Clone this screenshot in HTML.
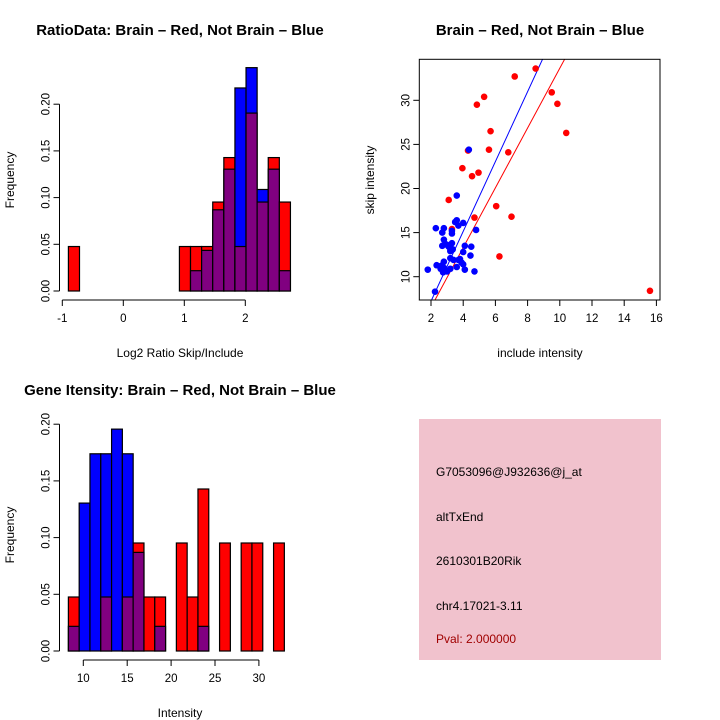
<!DOCTYPE html>
<html><head><meta charset="utf-8">
<style>
html,body{margin:0;padding:0;background:#fff;}
svg{display:block;font-family:"Liberation Sans",sans-serif;}
</style></head>
<body>
<svg id="c" width="720" height="720" viewBox="0 0 720 720">
<rect x="0" y="0" width="720" height="720" fill="#fff"/>
<text x="180" y="35" text-anchor="middle" font-size="15" font-weight="bold">RatioData: Brain – Red, Not Brain – Blue</text>
<text x="540" y="35" text-anchor="middle" font-size="15" font-weight="bold">Brain – Red, Not Brain – Blue</text>
<text x="180" y="395" text-anchor="middle" font-size="15" font-weight="bold">Gene Itensity: Brain – Red, Not Brain – Blue</text>
<text x="180" y="357" text-anchor="middle" font-size="12">Log2 Ratio Skip/Include</text>
<text x="14" y="180" text-anchor="middle" font-size="12" transform="rotate(-90 14 180)">Frequency</text>
<text x="540" y="357" text-anchor="middle" font-size="12">include intensity</text>
<text x="374" y="180" text-anchor="middle" font-size="12" transform="rotate(-90 374 180)">skip intensity</text>
<text x="180" y="717" text-anchor="middle" font-size="12">Intensity</text>
<text x="14" y="535" text-anchor="middle" font-size="12" transform="rotate(-90 14 535)">Frequency</text>
<g>
<rect x="419" y="419" width="242" height="241" fill="#f1c2cd"/>
<text x="436" y="476" font-size="12">G7053096@J932636@j_at</text>
<text x="436" y="521" font-size="12">altTxEnd</text>
<text x="436" y="565" font-size="12">2610301B20Rik</text>
<text x="436" y="610" font-size="12">chr4.17021-3.11</text>
<text x="436" y="643" font-size="12" fill="#a00000">Pval: 2.000000</text>
</g>
</svg>
<script>
// Ratio histogram data
const ratioStart = -0.9;
const ratioBin = 0.182;
const ratioRed = [1,0,0,0,0,0,0,0,0,0,1,1,1,2,3,1,4,2,3,2];
const ratioBlue = [0,0,0,0,0,0,0,0,0,0,0,1,2,4,6,10,11,5,6,1];
const ratioXTicks = [-1,0,1,2];
const ratioYTicks = ["0.00","0.05","0.10","0.15","0.20"];
// Intensity histogram data
const intStart = 8.3;
const intBin = 1.23;
const intRed = [1,0,0,1,0,1,2,1,1,0,2,1,3,0,2,0,2,2,0,2];
const intBlue = [1,6,8,8,9,8,4,0,1,0,0,0,1,0,0,0,0,0,0,0];
const intXTicks = [10,15,20,25,30];
const intYTicks = ["0.00","0.05","0.10","0.15","0.20"];
// Scatter data
const redX = [8.5,7.2,5.3,4.85,9.5,9.85,10.4,5.7,5.6,6.8,4.3,3.95,4.95,4.55,3.1,6.05,7.0,4.7,6.25,15.6,3.3];
const redY = [33.6,32.7,30.4,29.5,30.9,29.6,26.3,26.5,24.4,24.1,24.3,22.3,21.8,21.4,18.7,18,16.8,16.7,12.3,8.4,15.4];
const blueX = [4.35,3.6,2.3,2.8,2.7,3.3,3.3,3.5,3.6,3.7,4.0,4.8,2.8,2.7,3.0,3.2,3.3,3.35,3.2,4.1,4.5,4.0,4.45,3.2,3.4,3.8,3.6,4.0,3.9,2.8,2.7,2.35,2.6,3.2,2.75,2.95,4.1,4.7,1.8,2.25,2.8,3.1,2.9,3.7,2.6,3.0];
const blueY = [24.4,19.2,15.5,15.5,15,15.2,14.9,16.2,16.4,15.8,16.1,15.3,14.2,13.5,13.6,13.2,13.8,13.1,12.9,13.5,13.4,12.8,12.4,12.1,11.9,12.0,11.1,11.4,11.6,11.7,11.3,11.3,10.9,10.9,10.5,10.7,10.8,10.6,10.8,8.3,11.0,13.4,13.7,11.9,11.2,10.6];
const fitBlue = [-0.7, 3.96];
const fitRed = [-0.26, 3.39];
const scXTicks = [2,4,6,8,10,12,14,16];
const scYTicks = [10,15,20,25,30];

const svg = document.getElementById('c');
const NS = 'http://www.w3.org/2000/svg';
function mk(tag, attrs, parent){
  const e = document.createElementNS(NS, tag);
  for (const k in attrs) e.setAttribute(k, attrs[k]);
  (parent||svg).appendChild(e);
  return e;
}

function hist(cfg){
  const g = mk('g', {});
  
  
  const sx = v => cfg.x0 + (v - cfg.xv0) * cfg.xs;
  const sy = f => cfg.y0 - f * cfg.ys;
  const nr = cfg.red.reduce((a,b)=>a+b,0), nb = cfg.blue.reduce((a,b)=>a+b,0);
  for (let i=0;i<cfg.red.length;i++){
    const fr = cfg.red[i]/nr, fb = cfg.blue[i]/nb;
    if (fr===0 && fb===0) continue;
    const xl = sx(cfg.start + i*cfg.bin), xr = sx(cfg.start + (i+1)*cfg.bin);
    const big = Math.max(fr,fb), small = Math.min(fr,fb);
    const col = fr>=fb ? '#ff0000' : '#0000ff';
    const r = mk('rect', {x:xl, y:sy(big), width:xr-xl, height:sy(0)-sy(big), fill:col, stroke:'#000', 'stroke-width':1.2}, g);
    
    
    if (small>0){
      const p = mk('rect', {x:xl, y:sy(small), width:xr-xl, height:sy(0)-sy(small), fill:'#800080', stroke:'#000', 'stroke-width':1.2}, g);
      
      
    }
  }
  const yv = cfg.yTicks.map(Number);
  const ya = mk('line', {x1:cfg.yAxisX, x2:cfg.yAxisX, y1:sy(yv[0]), y2:sy(yv[yv.length-1]), stroke:'#000'}, g);
  
  
  cfg.yTicks.forEach(t=>{
    const y = sy(Number(t));
    mk('line', {x1:cfg.yAxisX-6, x2:cfg.yAxisX, y1:y, y2:y, stroke:'#000'}, g);
    const tx = mk('text', {x:cfg.yAxisX-10, y:y, 'font-size':11.5, 'text-anchor':'middle', transform:`rotate(-90 ${cfg.yAxisX-10} ${y})`}, g);
    tx.textContent = t;
    
    
  });
  const xt = cfg.xTicks;
  const xa = mk('line', {x1:sx(xt[0]), x2:sx(xt[xt.length-1]), y1:cfg.xAxisY, y2:cfg.xAxisY, stroke:'#000'}, g);
  
  
  xt.forEach(t=>{
    const x = sx(t);
    mk('line', {x1:x, x2:x, y1:cfg.xAxisY, y2:cfg.xAxisY+6, stroke:'#000'}, g);
    const tx = mk('text', {x:x, y:cfg.xAxisY+22, 'font-size':11.5, 'text-anchor':'middle'}, g);
    tx.textContent = t;
    
    
  });
}

hist({name:'ratio-histogram', red:ratioRed, blue:ratioBlue, start:ratioStart, bin:ratioBin,
  x0:123.3, xv0:0, xs:61, y0:291, ys:934, yAxisX:59.5, xAxisY:300,
  xTicks:ratioXTicks, yTicks:ratioYTicks});
hist({name:'intensity-histogram', red:intRed, blue:intBlue, start:intStart, bin:intBin,
  x0:83.3, xv0:10, xs:8.78, y0:651, ys:1134, yAxisX:59.5, xAxisY:660,
  xTicks:intXTicks, yTicks:intYTicks});

(function(){
  const L=419.3,R=660,T=59.3,B=300;
  const sx = v => 431 + (v-2)*16.1;
  const sy = v => 276.7 - (v-10)*8.82;
  const g = mk('g', {});
  
  
  const cp = mk('clipPath', {id:'scclip'}, g);
  mk('rect', {x:L,y:T,width:R-L,height:B-T}, cp);
  [[fitRed,'#ff0000','red-fit-line'],[fitBlue,'#0000ff','blue-fit-line']].forEach(([f,c,n])=>{
    const x1=1.2,x2=16.5;
    const l = mk('line', {x1:sx(x1), y1:sy(f[0]+f[1]*x1), x2:sx(x2), y2:sy(f[0]+f[1]*x2), stroke:c, 'stroke-width':1, 'clip-path':'url(#scclip)'}, g);
    
    
  });
  redX.forEach((x,i)=>{
    const p = mk('circle', {cx:sx(x), cy:sy(redY[i]), r:3.3, fill:'#ff0000'}, g);
    
    
  });
  blueX.forEach((x,i)=>{
    const p = mk('circle', {cx:sx(x), cy:sy(blueY[i]), r:3.3, fill:'#0000ff'}, g);
    
    
  });
  const box = mk('rect', {x:L,y:T,width:R-L,height:B-T,fill:'none',stroke:'#000'}, g);
  
  
  scXTicks.forEach(t=>{
    const x=sx(t);
    mk('line', {x1:x,x2:x,y1:B,y2:B+6,stroke:'#000'}, g);
    const tx = mk('text', {x:x, y:B+22, 'font-size':11.5, 'text-anchor':'middle'}, g);
    tx.textContent = t;
    
    
  });
  scYTicks.forEach(t=>{
    const y=sy(t);
    mk('line', {x1:L-6,x2:L,y1:y,y2:y,stroke:'#000'}, g);
    const tx = mk('text', {x:L-10, y:y, 'font-size':11.5, 'text-anchor':'middle', transform:`rotate(-90 ${L-10} ${y})`}, g);
    tx.textContent = t;
    
    
  });
})();
</script>
</body></html>
